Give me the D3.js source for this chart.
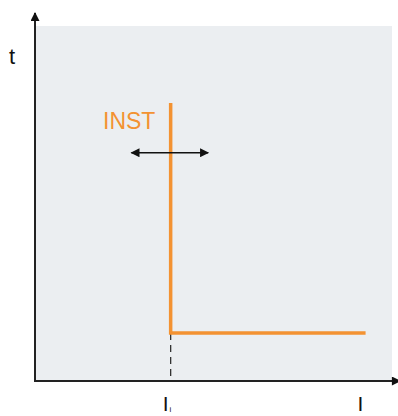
<!DOCTYPE html>
<html>
<head>
	<meta charset="utf-8">
	<script src="https://cdnjs.cloudflare.com/ajax/libs/d3/7.8.5/d3.min.js"></script>
	<style type="text/css">
		body { margin: 0; background: #fff; }
		text { font-family: "Liberation Sans", Arial, sans-serif; }
	</style>
</head>
<body>
	<script type="text/javascript">

		// curve in relative units (current on x, time on y)
		let curveI = [38, 38, 92.6];
		let curveT = [78.3, 13.5, 13.5];
		let tickI = [38, 92.6];
		let tickLabels = [['I', 'i'], ['I', '']];
		let instLabel = 'INST';
		let instArrow = [27, 48.5];   // I range of the double arrow
		let instArrowT = 64.3;

		const W = 398, H = 416;
		const orange = '#f39232';

		let svg = d3.select('body').append('svg')
			.attr('width', W)
			.attr('height', H);

		let xScale = d3.scaleLinear().domain([0, 100]).range([35, 392]);
		let yScale = d3.scaleLinear().domain([0, 100]).range([381, 26]);

		let defs = svg.append('defs');
		defs.append('marker')
			.attr('id', 'ah')
			.attr('viewBox', '0 0 10 10')
			.attr('refX', 9).attr('refY', 5)
			.attr('markerWidth', 10).attr('markerHeight', 9)
			.attr('markerUnits', 'userSpaceOnUse')
			.attr('orient', 'auto-start-reverse')
			.append('path').attr('d', 'M0,0L10,5L0,10Z').attr('fill', '#111');

		// panel
		svg.append('rect')
			.attr('x', xScale(0)).attr('y', yScale(100))
			.attr('width', xScale(100) - xScale(0))
			.attr('height', yScale(0) - yScale(100))
			.attr('fill', '#ebeef1');

		// axes with arrows
		svg.append('line')
			.attr('x1', xScale(0)).attr('y1', yScale(0))
			.attr('x2', xScale(0)).attr('y2', 13)
			.attr('stroke', '#222').attr('stroke-width', 2)
			.attr('marker-end', 'url(#ah)');
		svg.append('line')
			.attr('x1', xScale(0) - 1).attr('y1', yScale(0))
			.attr('x2', 400).attr('y2', yScale(0))
			.attr('stroke', '#222').attr('stroke-width', 2)
			.attr('marker-end', 'url(#ah)');

		// dashed drop line
		svg.append('line')
			.attr('x1', xScale(tickI[0])).attr('y1', yScale(curveT[1]))
			.attr('x2', xScale(tickI[0])).attr('y2', yScale(0))
			.attr('stroke', '#333').attr('stroke-width', 1.3)
			.attr('stroke-dasharray', '7,5');

		// curve
		let pts = curveI.map((v, k) => [xScale(v), yScale(curveT[k])]);
		svg.append('path')
			.attr('d', d3.line()(pts))
			.attr('fill', 'none')
			.attr('stroke', orange)
			.attr('stroke-width', 3.5);

		// INST label + double arrow
		svg.append('text')
			.attr('x', 103).attr('y', 129)
			.attr('font-size', 23)
			.attr('fill', orange)
			.text(instLabel);
		svg.append('line')
			.attr('x1', xScale(instArrow[0])).attr('y1', yScale(instArrowT))
			.attr('x2', xScale(instArrow[1])).attr('y2', yScale(instArrowT))
			.attr('stroke', '#111').attr('stroke-width', 1.3)
			.attr('marker-start', 'url(#ah)')
			.attr('marker-end', 'url(#ah)');

		// axis labels
		svg.append('text')
			.attr('x', 9).attr('y', 64)
			.attr('font-size', 22)
			.attr('fill', '#111')
			.text('t');

		let tl = svg.selectAll('.tick-label').data(tickI).enter().append('text')
			.attr('class', 'tick-label')
			.attr('x', d => xScale(d) - 8)
			.attr('y', 411)
			.attr('font-size', 21)
			.attr('fill', '#111');
		tl.append('tspan').text((d, k) => tickLabels[k][0]);
		tl.append('tspan')
			.attr('font-size', 8)
			.attr('dx', 1)
			.attr('dy', 1)
			.text((d, k) => tickLabels[k][1]);
	</script>
</body>
</html>
